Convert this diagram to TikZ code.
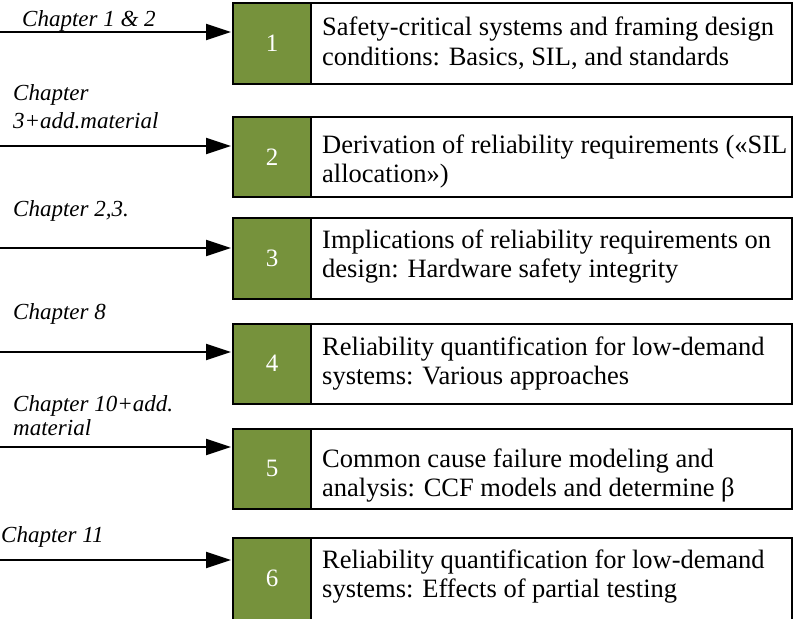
\documentclass[tikz,border=0pt]{standalone}
\usepackage{fontspec}
\setmainfont{Liberation Serif}
\usetikzlibrary{arrows.meta}
\definecolor{chapgreen}{RGB}{118,146,60}
\newcommand{\twoln}[3]{\vtop{\baselineskip=#1pt\hbox{#2}\hbox{#3}}}
\begin{document}
\begin{tikzpicture}[x=1pt,y=-1pt,
  numbox/.style={draw=black, line width=2pt, fill=chapgreen, outer sep=0pt,
    minimum width=78pt, minimum height=80.5pt, anchor=north west, inner sep=0pt,
    text=white, font=\fontsize{25}{29}\selectfont},
  descbox/.style={draw=black, line width=2pt, fill=white, outer sep=0pt,
    minimum width=481pt, minimum height=80.5pt, anchor=north west, inner sep=0pt},
  desctext/.style={anchor=base west, inner sep=0pt, font=\fontsize{26.5}{29}\selectfont},
  chaplab/.style={anchor=base west, inner sep=0pt, font=\fontsize{23}{28}\selectfont\itshape},
  chaparrow/.style={draw=black, line width=2pt, -{Triangle[length=25pt,width=16pt]}, shorten >=2pt}]
\useasboundingbox (0,0) rectangle (794,618);

% boxes
\node[descbox] (d1) at (311,3) {};
\node[numbox] (g1) at (233,3) {1};
\node[descbox] (d2) at (311,116.5) {};
\node[numbox] (g2) at (233,116.5) {2};
\node[descbox] (d3) at (311,218) {};
\node[numbox] (g3) at (233,218) {3};
\node[descbox] (d4) at (311,323.5) {};
\node[numbox] (g4) at (233,323.5) {4};
\node[descbox] (d5) at (311,428.5) {};
\node[numbox] (g5) at (233,428.5) {5};
\node[descbox, minimum height=84pt] (d6) at (311,538) {};
\node[numbox, minimum height=84pt] (g6) at (233,538) {};
\node[text=white, font=\fontsize{25}{29}\selectfont, inner sep=0pt] (n6) at (272,578.5) {6};

% descriptions
\node[desctext] (x1) at (322,36) {\twoln{29}{Safety-critical systems and framing design}{conditions: Basics, SIL, and standards}};
\node[desctext] (x2) at (322,153) {\twoln{29}{Derivation of reliability requirements («SIL}{allocation»)}};
\node[desctext] (x3) at (322,248) {\twoln{29}{Implications of reliability requirements on}{design: Hardware safety integrity}};
\node[desctext] (x4) at (322,355) {\twoln{29}{Reliability quantification for low-demand}{systems: Various approaches}};
\node[desctext] (x5) at (322,467) {\twoln{29}{Common cause failure modeling and}{analysis: CCF models and determine β}};
\node[desctext] (x6) at (322,568) {\twoln{29}{Reliability quantification for low-demand}{systems: Effects of partial testing}};

% chapter labels
\node[chaplab] (c1) at (22,27) {Chapter 1 \& 2};
\node[chaplab] (c2) at (13,100) {\twoln{28}{Chapter}{3+add.material}};
\node[chaplab] (c3) at (13,216) {Chapter 2,3.};
\node[chaplab] (c4) at (13,319) {Chapter 8};
\node[chaplab] (c5) at (13,411) {\twoln{24}{Chapter 10+add.}{material}};
\node[chaplab] (c6) at (1,542) {Chapter 11};

% arrows
\coordinate (s1) at (0,32);
\coordinate (s2) at (0,146);
\coordinate (s3) at (0,248);
\coordinate (s4) at (0,352);
\coordinate (s5) at (0,447);
\coordinate (s6) at (0,560);
\draw[chaparrow] (s1) -- (s1 -| g1.west);
\draw[chaparrow] (s2) -- (s2 -| g2.west);
\draw[chaparrow] (s3) -- (s3 -| g3.west);
\draw[chaparrow] (s4) -- (s4 -| g4.west);
\draw[chaparrow] (s5) -- (s5 -| g5.west);
\draw[chaparrow] (s6) -- (s6 -| g6.west);
\end{tikzpicture}
\end{document}
